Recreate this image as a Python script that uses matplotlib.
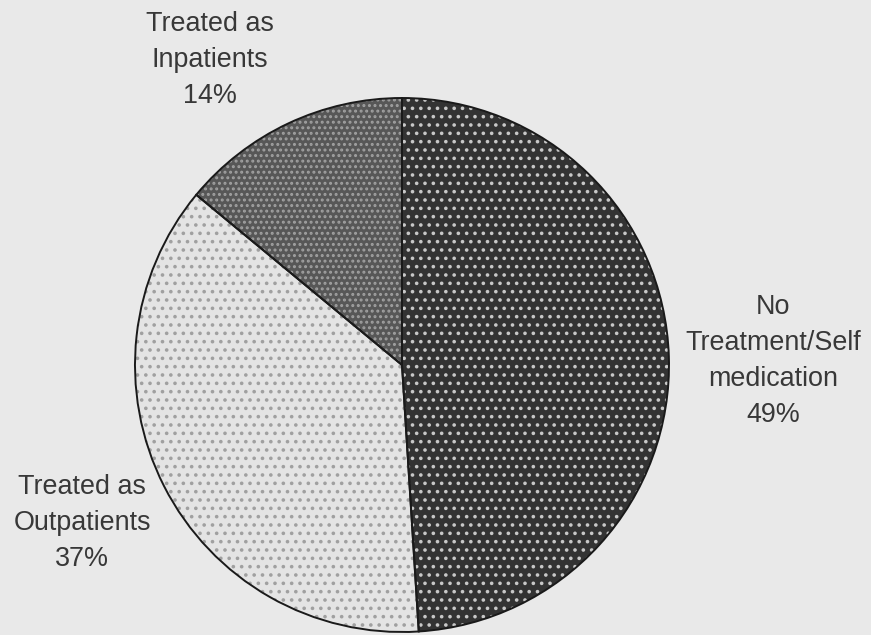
import matplotlib
matplotlib.use("Agg")
import matplotlib.pyplot as plt

# Data
categories = ["No\nTreatment/Self\nmedication", "Treated as\nOutpatients", "Treated as\nInpatients"]
values = [49, 37, 14]
pct_labels = ["49%", "37%", "14%"]

W, H = 871, 635
plt.rcParams['font.family'] = ['Liberation Sans', 'DejaVu Sans']
plt.rcParams['hatch.linewidth'] = 1.4

fig = plt.figure(figsize=(W / 100, H / 100), dpi=100, facecolor='#e9e9e9')
ax = fig.add_axes([0, 0, 1, 1])
ax.set_facecolor('#e9e9e9')

cx, cy, r = 402, H - 365, 267

face = ['#333333', '#e4e4e4', '#575757']
hatch_col = ['#c8c8c8', '#a0a0a0', '#a0a0a0']
hatches = ['..', '..', '...']

wedges, _ = ax.pie(values, startangle=90, counterclock=False, center=(cx, cy), radius=r,
                   wedgeprops=dict(linewidth=0))
for w, fc, hc, ht in zip(wedges, face, hatch_col, hatches):
    w.set_facecolor(fc)
    w.set_edgecolor(hc)
    w.set_hatch(ht)
    w.set_linewidth(0)

# outlines
ax.pie(values, startangle=90, counterclock=False, center=(cx, cy), radius=r,
       wedgeprops=dict(fill=False, edgecolor='#1a1a1a', linewidth=1.4))

ax.set_xlim(0, W)
ax.set_ylim(0, H)
ax.set_aspect('auto')
ax.axis('off')

label_pos = [(773, 361), (82, 523), (210, 60)]
for cat, pct, (x, y) in zip(categories, pct_labels, label_pos):
    ax.text(x, H - y, cat + "\n" + pct, ha='center', va='center', fontsize=19.4,
            color='#383838', linespacing=1.5)

fig.savefig('out.png', dpi=100, facecolor=fig.get_facecolor())
